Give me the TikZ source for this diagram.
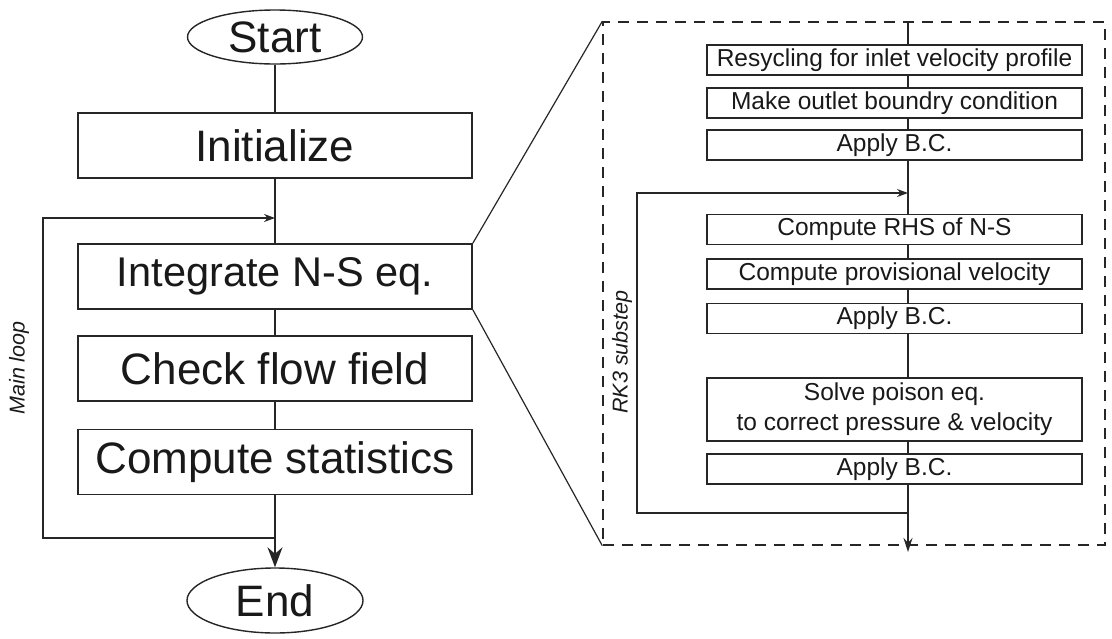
\documentclass[tikz,border=0pt]{standalone}
\usepackage{fontspec}
\setmainfont{Liberation Sans}
\usetikzlibrary{arrows.meta,shapes.geometric}
\begin{document}
\begin{tikzpicture}[x=1pt,y=-1pt,
  bigbox/.style={draw=black!85, line width=1.8pt, fill=white, minimum width=394pt, minimum height=65pt, inner sep=0pt, font=\fontsize{44}{52}\selectfont, text=black!90},
  term/.style={draw=black!85, line width=1.4pt, ellipse, fill=white, inner sep=0pt, font=\fontsize{44}{52}\selectfont, text=black!90},
  smallbox/.style={draw=black!85, line width=1.4pt, fill=white, minimum width=375pt, minimum height=30pt, inner sep=0pt, font=\fontsize{24.5}{29}\selectfont, text=black!90, align=center},
  flow/.style={draw=black!85, line width=1.8pt},
  thin/.style={draw=black!85, line width=1.2pt},
  looplabel/.style={font=\fontsize{21.5}{25}\selectfont\itshape, text=black!90, rotate=90}
]
\useasboundingbox (0,0) rectangle (1112,638);

% left column
\node[term, minimum width=175pt, minimum height=54pt] (start) at (275,37) {Start};
\node[bigbox] (init) at (275,145.5) {Initialize};
\node[bigbox, font=\fontsize{41.5}{49}\selectfont] (integ) at (275,276.5) {Integrate N-S eq.};
\node[bigbox] (check) at (275,368.5) {Check flow field};
\node[bigbox] (stats) at (275,462) {Compute statistics};
\node[term, minimum width=176pt, minimum height=65pt] (end) at (275,600.5) {End};

\draw[flow] (start) -- (init);
\draw[flow] (init) -- (integ);
\draw[flow] (integ) -- (check);
\draw[flow] (check) -- (stats);
\draw[flow, -{Stealth[length=20pt,width=15pt]}] (stats) -- (end);

\coordinate (mlout) at (275,538);
\coordinate (mlin) at (275,218);
\draw[thin, -{Stealth[length=11pt,width=8pt]}] (mlout) -- (43,538) -- (43,218) -- (mlin);
\node[looplabel] (mainloop) at (19,368) {Main loop};

% zoom box
\node[draw=black!85, line width=1.4pt, dash pattern=on 11pt off 8pt, minimum width=502pt, minimum height=523pt, inner sep=0pt] (zoom) at (854,283.5) {};
\draw[thin] (integ.north east) -- (zoom.north west);
\draw[thin] (integ.south east) -- (zoom.south west);

% right column
\coordinate (spine) at (908,0);
\node[smallbox] (b1) at (894.5,60) {Resycling for inlet velocity profile};
\node[smallbox] (b2) at (894.5,103) {Make outlet boundry condition};
\node[smallbox] (b3) at (894.5,145) {Apply B.C.};
\node[smallbox] (b4) at (894.5,229.5) {Compute RHS of N-S};
\node[smallbox] (b5) at (894.5,274) {Compute provisional velocity};
\node[smallbox] (b6) at (894.5,318.5) {Apply B.C.};
\node[smallbox, minimum height=63pt] (b7) at (894.5,409.5) {Solve poison eq.\\[1pt] to correct pressure \& velocity};
\node[smallbox] (b8) at (894.5,469) {Apply B.C.};

\draw[thin] (zoom.north -| spine) -- (b1.north -| spine);
\draw[thin] (b1.south -| spine) -- (b2.north -| spine);
\draw[thin] (b2.south -| spine) -- (b3.north -| spine);
\draw[thin] (b3.south -| spine) -- (b4.north -| spine);
\draw[thin] (b4.south -| spine) -- (b5.north -| spine);
\draw[thin] (b5.south -| spine) -- (b6.north -| spine);
\draw[thin] (b6.south -| spine) -- (b7.north -| spine);
\draw[thin] (b7.south -| spine) -- (b8.north -| spine);
\coordinate (rkout) at (908,513);
\coordinate (rkin) at (908,193);
\coordinate (rkend) at (908,552);
\draw[thin, -{Stealth[length=14pt,width=9pt]}] (b8.south -| spine) -- (rkend);
\draw[thin, -{Stealth[length=11pt,width=8pt]}] (rkout) -- (637,513) -- (637,193) -- (rkin);
\node[looplabel] (rklabel) at (622,352) {RK3 substep};
\end{tikzpicture}
\end{document}
